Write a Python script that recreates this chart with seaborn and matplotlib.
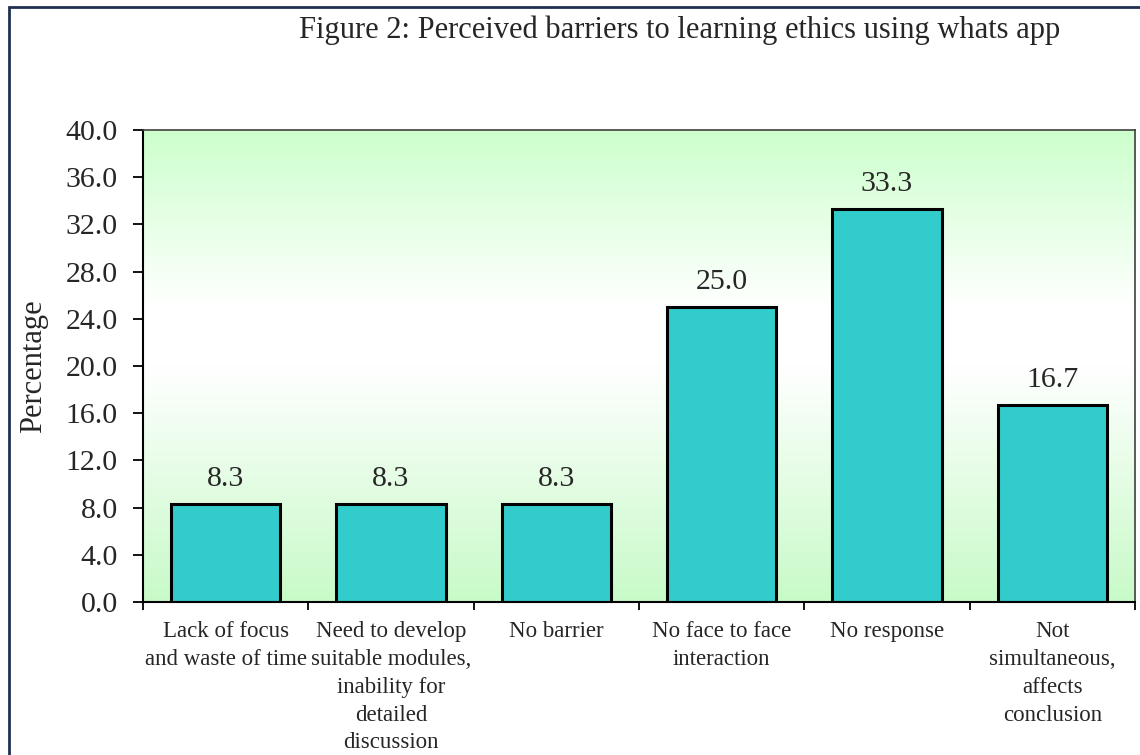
import numpy as np
import matplotlib
matplotlib.use("Agg")
import matplotlib.pyplot as plt
import seaborn as sns
import pandas as pd
from matplotlib.colors import LinearSegmentedColormap
from matplotlib.patches import Rectangle

categories = [
    "Lack of focus\nand waste of time",
    "Need to develop\nsuitable modules,\ninability for\ndetailed\ndiscussion",
    "No barrier",
    "No face to face\ninteraction",
    "No response",
    "Not\nsimultaneous,\naffects\nconclusion",
]
values = [8.3, 8.3, 8.3, 25.0, 33.3, 16.7]
yticks = [0, 4, 8, 12, 16, 20, 24, 28, 32, 36, 40]
title = "Figure 2: Perceived barriers to learning ethics using whats app"
ylabel = "Percentage"

sns.set_style("white")
plt.rcParams['font.family'] = ['Liberation Serif', 'DejaVu Serif']

fig = plt.figure(figsize=(11.4, 7.55), dpi=100)
ax = fig.add_axes([0.1254, 0.2026, 0.8702, 0.6252])

# gradient background (green - white - green)
cmap = LinearSegmentedColormap.from_list(
    "g", [(0.0, "#C8FAC8"), (0.5, "#FFFFFF"), (0.62, "#FFFFFF"), (1.0, "#CCFFCC")])
grad = np.linspace(0, 1, 256).reshape(-1, 1)
ax.imshow(grad, aspect="auto", cmap=cmap, extent=[-0.5, 5.5, 0, 40], origin="lower", zorder=0)

df = pd.DataFrame({"cat": categories, "val": values})
sns.barplot(data=df, x="cat", y="val", color="#33CCCC", edgecolor="black",
            linewidth=2.2, width=0.66, saturation=1, ax=ax, zorder=2)

ax.set_xlim(-0.5, 5.5)
ax.set_ylim(0, 40)
ax.set_yticks(yticks)
ax.set_yticklabels([f"{v:.1f}" for v in yticks], fontsize=21.5)
ax.set_xticks(np.arange(-0.5, 6, 1))
ax.set_xticklabels([])
ax.set_xticks(np.arange(6), minor=True)
ax.set_xticklabels(categories, minor=True, fontsize=16.5, linespacing=1.42, va="top")
ax.tick_params(axis="x", which="minor", length=0, pad=14)
ax.tick_params(axis="x", which="major", direction="out", length=6, width=1.3, color="black", bottom=True)
ax.tick_params(axis="y", direction="out", length=7, width=1.3, color="black", left=True, pad=11)
ax.set_xlabel("")
ax.set_ylabel(ylabel, fontsize=22, labelpad=13)

for s in ["left", "bottom"]:
    ax.spines[s].set_color("black")
    ax.spines[s].set_linewidth(1.5)
for s in ["top", "right"]:
    ax.spines[s].set_color("#404040")
    ax.spines[s].set_linewidth(1.2)

for i, v in enumerate(values):
    ax.text(i, v + 1.5, f"{v:.1f}", ha="center", va="baseline", fontsize=21.5, zorder=3)

fig.text(0.596, 0.960, title, ha="center", va="center", fontsize=22)

fig.patches.append(Rectangle((9 / 1140, -0.05), 1.1, 1 - 7 / 755 + 0.05,
                             transform=fig.transFigure, fill=False,
                             edgecolor="#1F3050", linewidth=2, zorder=10))

fig.savefig("out.png", dpi=100)
